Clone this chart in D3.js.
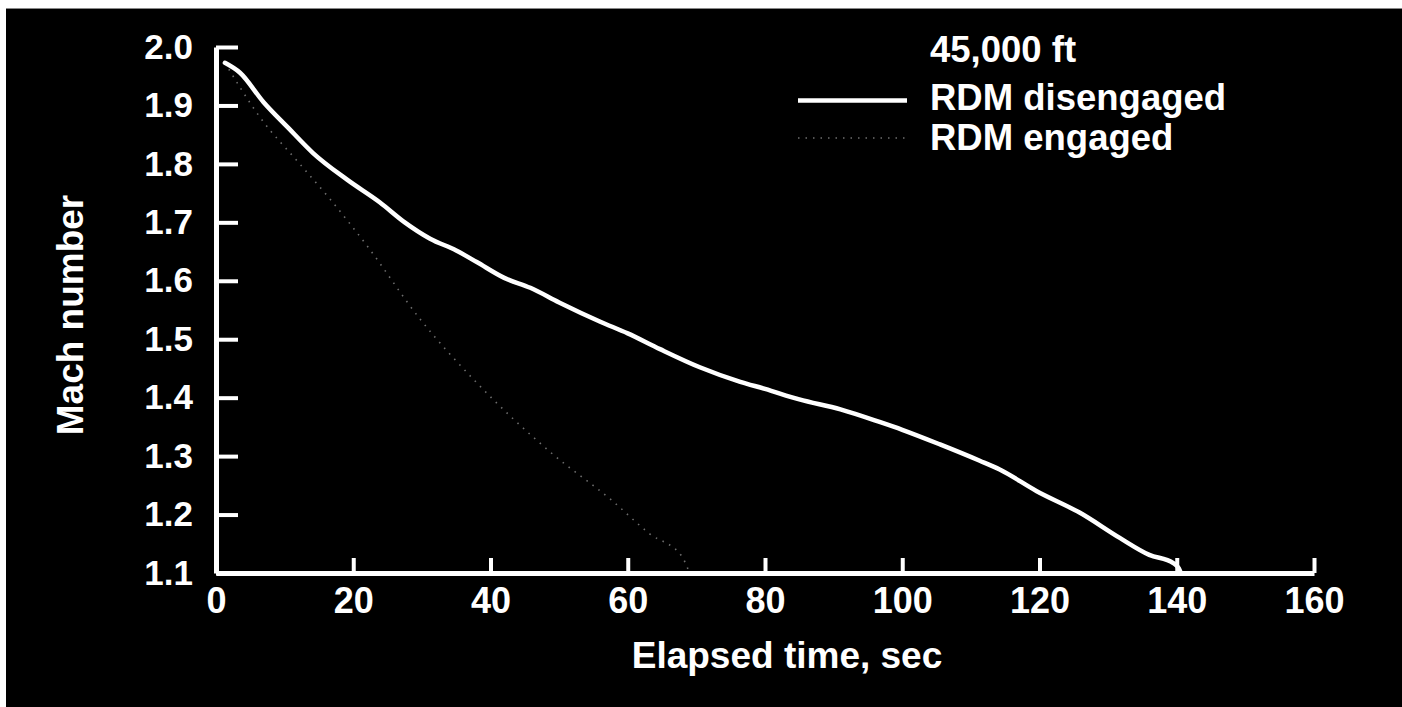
<!DOCTYPE html>
<html>
<head>
<meta charset="utf-8">
<script src="https://cdn.jsdelivr.net/npm/d3@7"></script>
<style>
  html, body { margin: 0; padding: 0; background: #fff; }
  svg { display: block; }
  text { font-family: "Liberation Sans", Arial, Helvetica, sans-serif; font-weight: bold; fill: #fff; }
</style>
</head>
<body>
<script>
// ---- data ----
const xTicks = [0, 20, 40, 60, 80, 100, 120, 140, 160];
const yTicks = [1.1, 1.2, 1.3, 1.4, 1.5, 1.6, 1.7, 1.8, 1.9, 2.0];

const disengagedTime = [1.3, 3.5, 6.9, 10.5, 14.1, 19.1, 23.9, 27.5, 31.2, 35.0, 38.0, 42.0, 45.8, 50.0, 56.0, 60.0, 64.7, 70.5, 76.4, 80.0, 85.0, 91.0, 96.8, 100.0, 105.5, 111.3, 114.2, 119.6, 125.9, 131.7, 136.0, 139.5, 140.3, 140.6];
const disengagedMach = [1.973, 1.956, 1.906, 1.862, 1.819, 1.773, 1.734, 1.700, 1.672, 1.652, 1.632, 1.605, 1.588, 1.563, 1.530, 1.510, 1.483, 1.452, 1.427, 1.415, 1.397, 1.380, 1.358, 1.345, 1.320, 1.292, 1.277, 1.240, 1.203, 1.160, 1.131, 1.117, 1.108, 1.100];

const engagedTime = [1.3, 6.4, 12.2, 16.6, 22.0, 29.7, 38.2, 48.7, 57.7, 63.2, 67.9, 69.0];
const engagedMach = [1.973, 1.880, 1.800, 1.740, 1.660, 1.535, 1.423, 1.307, 1.224, 1.167, 1.128, 1.100];

const legendTitle = "45,000 ft";
const seriesNames = ["RDM disengaged", "RDM engaged"];
const xTitle = "Elapsed time, sec";
const yTitle = "Mach number";

// ---- layout ----
const W = 1402, H = 707;
const svg = d3.select("body").append("svg").attr("width", W).attr("height", H);

// white scan border then black plate
svg.append("rect").attr("x", 0).attr("y", 0).attr("width", W).attr("height", H).attr("fill", "#fff");
svg.append("rect").attr("x", 6).attr("y", 8).attr("width", W - 6).attr("height", H - 8).attr("fill", "#000");
svg.append("line").attr("x1", 6).attr("x2", W).attr("y1", 8.5).attr("y2", 8.5).attr("stroke", "#888").attr("stroke-width", 1);

const x = d3.scaleLinear().domain([0, 160]).range([216, 1314]);
const y = d3.scaleLinear().domain([1.1, 2.0]).range([573, 47]);

// x axis
const gx = svg.append("g").attr("transform", `translate(0,${y(1.1)})`)
  .call(d3.axisBottom(x).tickValues(xTicks).tickFormat(d3.format("d")).tickSize(-15).tickSizeOuter(0).tickPadding(14));
gx.select(".domain").attr("stroke", "#fff").attr("stroke-width", 5);
gx.selectAll(".tick line").attr("stroke", "#fff").attr("stroke-width", 4);
gx.selectAll(".tick text").attr("fill", "#fff").style("font-size", "36px").style("font-family", "'Liberation Sans', Arial, sans-serif").style("font-weight", "bold");

// y axis
const gy = svg.append("g").attr("transform", `translate(${x(0)},0)`)
  .call(d3.axisLeft(y).tickValues(yTicks).tickFormat(d3.format(".1f")).tickSize(-22).tickSizeOuter(0).tickPadding(23));
gy.select(".domain").attr("stroke", "#fff").attr("stroke-width", 5);
gy.selectAll(".tick line").attr("stroke", "#fff").attr("stroke-width", 4);
gy.selectAll(".tick text").attr("fill", "#fff").style("font-size", "35px").style("font-family", "'Liberation Sans', Arial, sans-serif").style("font-weight", "bold");

// lines
const disData = disengagedTime.map((t, i) => [t, disengagedMach[i]]);
const engData = engagedTime.map((t, i) => [t, engagedMach[i]]);

svg.append("path").datum(engData)
  .attr("d", d3.line().x(d => x(d[0])).y(d => y(d[1])).curve(d3.curveMonotoneX))
  .attr("fill", "none").attr("stroke", "#6e6e6e").attr("stroke-width", 1.6)
  .attr("stroke-dasharray", "1.5 6");

svg.append("path").datum(disData)
  .attr("d", d3.line().x(d => x(d[0])).y(d => y(d[1])).curve(d3.curveMonotoneX))
  .attr("fill", "none").attr("stroke", "#fff").attr("stroke-width", 4.5)
  .attr("stroke-linejoin", "round").attr("stroke-linecap", "round");

// legend
const lx = 930;
svg.append("text").attr("x", lx).attr("y", 62).style("font-size", "36.5px").text(legendTitle);
svg.append("text").attr("x", lx).attr("y", 110).style("font-size", "36.5px").text(seriesNames[0]);
svg.append("text").attr("x", lx).attr("y", 150).style("font-size", "36.5px").text(seriesNames[1]);
svg.append("line").attr("x1", 798).attr("x2", 907).attr("y1", 100.5).attr("y2", 100.5)
  .attr("stroke", "#fff").attr("stroke-width", 4.5);
svg.append("line").attr("x1", 798).attr("x2", 907).attr("y1", 138).attr("y2", 138)
  .attr("stroke", "#6e6e6e").attr("stroke-width", 1.6).attr("stroke-dasharray", "1.5 6");

// axis titles
svg.append("text").attr("x", 787).attr("y", 668).attr("text-anchor", "middle").style("font-size", "37px").text(xTitle);
svg.append("text").attr("transform", "translate(83,315) rotate(-90)").attr("text-anchor", "middle").style("font-size", "37px").text(yTitle);
</script>
</body>
</html>
